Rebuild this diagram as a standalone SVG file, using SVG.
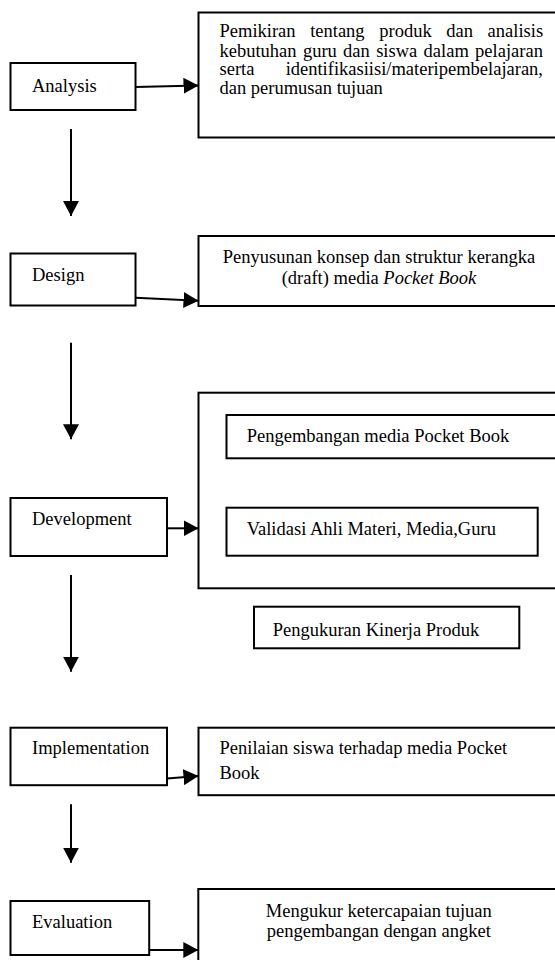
<svg xmlns="http://www.w3.org/2000/svg" width="555" height="960" viewBox="0 0 555 960">
<style>
.box{fill:#fff;stroke:#000;stroke-width:2}
.t{font-family:"Liberation Serif","Times New Roman",serif;font-size:18.5px;fill:#000}
.c{text-anchor:middle}
.ln{stroke:#000;stroke-width:2;fill:none;marker-end:url(#ah)}
</style>
<defs>
<marker id="ah" markerUnits="userSpaceOnUse" markerWidth="16" markerHeight="16" refX="15" refY="8" orient="auto" viewBox="0 0 16 16">
<path d="M0,0 L15,8 L0,16 z" fill="#000"/>
</marker>
</defs>
<rect width="555" height="960" fill="#fff"/>

<g id="connectors">
<path class="ln" d="M135.5,87 L198.5,85.5"/>
<path class="ln" d="M71,129 L71,216"/>
<path class="ln" d="M135.5,297.7 L198.5,300.7"/>
<path class="ln" d="M71,342.7 L71,439.3"/>
<path class="ln" d="M167,528.3 L198.5,528.3"/>
<path class="ln" d="M71,575 L71,671.7"/>
<path class="ln" d="M167,778.5 L198.5,776"/>
<path class="ln" d="M71,804.3 L71,862.7"/>
<path class="ln" d="M149,950 L198.3,950"/>
</g>

<g id="analysis">
<rect class="box" x="10.5" y="63" width="125" height="47"/>
<text class="t" x="32" y="91.5">Analysis</text>
</g>
<g id="analysis-detail">
<rect class="box" x="198.5" y="12.5" width="370" height="125"/>
<text class="t" x="219.5" y="37.3" word-spacing="10">Pemikiran tentang produk dan analisis</text>
<text class="t" x="219.5" y="56.7" word-spacing="1.7">kebutuhan guru dan siswa dalam pelajaran</text>
<text class="t" x="219.5" y="75.3">serta</text>
<text class="t" x="543" y="75.3" text-anchor="end">identifikasiisi/materipembelajaran,</text>
<text class="t" x="219.5" y="94.3">dan perumusan tujuan</text>
</g>

<g id="design">
<rect class="box" x="10.5" y="253.5" width="125" height="52"/>
<text class="t" x="32" y="281">Design</text>
</g>
<g id="design-detail">
<rect class="box" x="198.5" y="236" width="370" height="70"/>
<text class="t c" x="379" y="262.7">Penyusunan konsep dan struktur kerangka</text>
<text class="t c" x="379" y="284">(draft) media <tspan font-style="italic">Pocket Book</tspan></text>
</g>

<g id="development">
<rect class="box" x="10.5" y="498" width="156.5" height="58"/>
<text class="t" x="32" y="525.3">Development</text>
</g>
<g id="development-detail">
<rect class="box" x="198.5" y="392.7" width="370" height="195.6"/>
</g>
<g id="pengembangan">
<rect class="box" x="226.5" y="415" width="340" height="43.3"/>
<text class="t" x="246.7" y="441.7">Pengembangan media Pocket Book</text>
</g>
<g id="validasi">
<rect class="box" x="226.5" y="507.7" width="311.2" height="48"/>
<text class="t" x="246.7" y="535">Validasi Ahli Materi, Media,Guru</text>
</g>
<g id="pengukuran">
<rect class="box" x="254" y="606.7" width="265.3" height="41.6"/>
<text class="t" x="272.7" y="636">Pengukuran Kinerja Produk</text>
</g>

<g id="implementation">
<rect class="box" x="10.5" y="727.7" width="156.5" height="57.5"/>
<text class="t" x="32" y="754.3">Implementation</text>
</g>
<g id="implementation-detail">
<rect class="box" x="198.5" y="727.7" width="370" height="67.5"/>
<text class="t" x="219.5" y="754.3">Penilaian siswa terhadap media Pocket</text>
<text class="t" x="219.5" y="779">Book</text>
</g>

<g id="evaluation">
<rect class="box" x="10.5" y="901" width="138.7" height="54"/>
<text class="t" x="32" y="928.3">Evaluation</text>
</g>
<g id="evaluation-detail">
<rect class="box" x="198.3" y="889" width="370" height="100"/>
<text class="t c" x="378.8" y="916.7">Mengukur ketercapaian tujuan</text>
<text class="t c" x="378.8" y="936.7">pengembangan dengan angket</text>
</g>
</svg>
